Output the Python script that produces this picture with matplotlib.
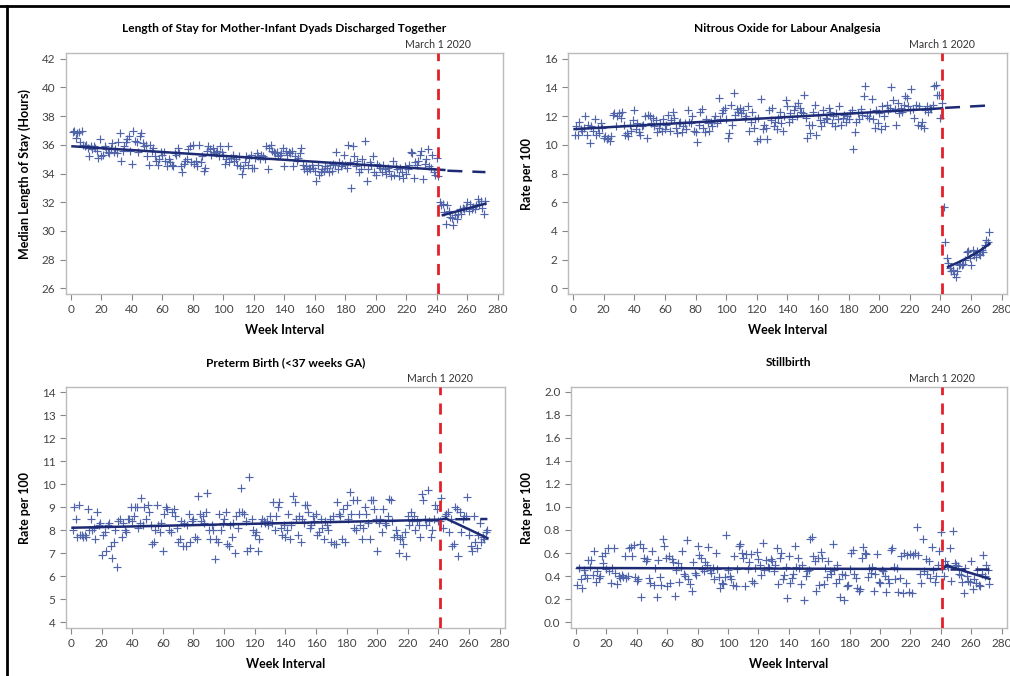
import matplotlib
matplotlib.use("Agg")
import matplotlib.pyplot as plt
import numpy as np
from matplotlib.lines import Line2D

plt.rcParams['font.family'] = ['Lato', 'DejaVu Sans']

weeks = np.arange(1, 273)

# (1) length of stay, weeks 1..272
los = [
    36.9, 37.0, 36.5, 36.8, 36.9, 36.2, 37.0, 36.0, 35.9, 36.0,
    35.8, 35.2, 35.9, 35.7, 35.9, 35.8, 35.6, 35.1, 36.4, 35.2,
    35.3, 35.9, 35.7, 35.5, 35.4, 35.8, 36.1, 35.5, 35.7, 35.4,
    36.2, 36.8, 34.9, 35.6, 35.9, 36.2, 36.4, 36.6, 35.6, 34.7,
    37.0, 36.3, 36.2, 35.5, 36.6, 36.8, 36.1, 35.9, 36.0, 35.2,
    34.6, 36.0, 35.6, 35.8, 35.2, 34.9, 34.6, 35.0, 35.5, 35.3,
    35.5, 34.9, 34.5, 35.0, 34.8, 34.6, 34.5, 35.4, 35.3, 35.8,
    35.4, 34.5, 34.1, 34.7, 34.9, 35.0, 35.7, 35.9, 34.8, 36.0,
    34.7, 34.9, 34.5, 36.0, 34.8, 35.2, 34.2, 34.4, 35.6, 35.9,
    35.7, 35.3, 35.8, 35.5, 35.4, 35.6, 35.2, 35.9, 35.5, 35.3,
    34.7, 35.0, 35.9, 34.8, 35.1, 35.3, 34.9, 35.0, 34.6, 35.2,
    34.5, 34.0, 34.4, 34.8, 35.2, 34.6, 35.1, 35.3, 34.4, 34.4,
    35.1, 35.4, 35.2, 35.0, 35.3, 35.2, 35.0, 35.9, 34.3, 35.8,
    36.0, 35.6, 35.5, 35.4, 35.5, 35.2, 35.3, 35.4, 35.8, 34.5,
    35.6, 35.3, 35.5, 35.4, 35.6, 34.5, 35.2, 34.9, 35.1, 35.4,
    35.8, 34.6, 34.3, 34.5, 34.2, 34.4, 34.3, 34.6, 34.4, 34.2,
    33.5, 34.6, 33.9, 34.1, 34.3, 34.2, 34.5, 34.4, 34.1, 34.6,
    34.2, 34.7, 34.6, 35.5, 34.3, 34.8, 34.5, 34.7, 35.3, 34.6,
    34.4, 36.0, 34.8, 33.0, 35.9, 35.2, 34.5, 34.9, 34.1, 34.3,
    35.0, 34.7, 36.3, 33.5, 34.3, 34.8, 34.6, 35.2, 34.1, 33.9,
    34.7, 34.5, 34.4, 34.1, 34.6, 34.3, 34.0, 34.4, 34.2, 33.8,
    34.9, 33.9, 34.5, 34.3, 33.8, 34.4, 34.1, 33.7, 34.5, 34.0,
    34.3, 34.6, 35.5, 35.4, 33.7, 34.8, 34.6, 34.9, 35.3, 35.6,
    33.6, 34.7, 35.0, 35.7, 34.5, 34.4, 35.3, 34.1, 33.9, 35.1,
    33.8, 32.0, 31.8, 31.9, 31.3, 30.5, 31.8, 31.4, 31.0, 30.9,
    30.4, 31.1, 30.8, 31.2, 31.5, 31.2, 31.6, 31.5, 31.7, 32.0,
    31.4, 31.9, 31.5, 31.7, 31.5, 31.8, 32.2, 31.9, 32.1, 31.6,
    31.2, 32.1,
]

# (2) nitrous oxide rate per 100
n2o = [
    10.7, 11.3, 10.7, 11.6, 11.1, 11.0, 11.2, 12.0, 10.7, 11.4,
    10.1, 11.3, 11.0, 11.8, 10.7, 11.2, 10.8, 11.5, 11.2, 10.5,
    10.6, 10.4, 10.5, 10.3, 10.6, 12.1, 12.2, 11.3, 12.0, 12.2,
    11.9, 12.3, 11.4, 10.7, 10.8, 10.6, 11.4, 11.0, 11.7, 12.4,
    11.1, 11.5, 10.9, 10.7, 11.3, 11.4, 12.0, 10.5, 12.1, 12.0,
    11.5, 11.9, 11.3, 11.7, 10.9, 11.2, 11.5, 11.0, 11.8, 11.1,
    11.4, 12.1, 11.0, 11.7, 12.3, 11.9, 11.2, 10.8, 11.5, 11.6,
    10.9, 11.3, 11.5, 11.1, 12.4, 11.6, 11.5, 12.0, 11.0, 10.9,
    10.2, 11.4, 12.3, 12.5, 11.2, 10.9, 11.8, 11.5, 11.0, 11.6,
    11.3, 11.7, 12.0, 11.5, 13.3, 11.8, 12.2, 12.4, 12.6, 11.8,
    10.5, 10.8, 12.8, 11.4, 13.6, 12.1, 12.5, 12.3, 12.6, 12.2,
    12.4, 11.9, 12.0, 12.7, 11.0, 11.6, 12.3, 11.2, 11.8, 10.3,
    11.9, 10.4, 13.2, 11.1, 11.4, 11.2, 10.4, 12.4, 11.7, 12.6,
    11.3, 11.6, 11.1, 11.9, 12.3, 11.5, 11.0, 12.0, 13.1, 12.7,
    11.6, 12.2, 11.8, 12.4, 12.7, 12.0, 12.9, 12.6, 12.3, 12.2,
    13.5, 11.9, 10.5, 11.4, 10.8, 11.4, 12.3, 12.8, 10.7, 12.1,
    11.7, 11.3, 12.4, 11.6, 11.9, 11.8, 12.6, 12.3, 11.5, 12.0,
    11.3, 12.2, 11.8, 12.7, 11.4, 11.9, 12.1, 11.6, 12.0, 11.8,
    12.2, 12.4, 9.7, 10.9, 11.6, 12.2, 11.8, 12.5, 12.1, 13.4,
    14.1, 12.0, 11.9, 12.3, 13.2, 11.8, 11.2, 12.4, 11.5, 12.2,
    11.1, 12.7, 12.0, 11.3, 12.8, 12.4, 12.6, 14.0, 13.1, 12.5,
    11.4, 12.9, 12.2, 12.6, 12.3, 12.8, 13.4, 13.3, 12.7, 12.4,
    13.9, 12.5, 11.9, 12.8, 11.4, 12.7, 11.3, 11.6, 11.2, 12.4,
    12.7, 12.3, 12.6, 12.5, 12.8, 14.1, 14.2, 13.5, 13.5, 11.9,
    12.9, 5.7, 3.2, 2.1, 1.8, 1.4, 1.2, 1.3, 1.0, 0.8,
    1.2, 1.6, 1.7, 1.6, 1.7, 2.0, 2.5, 2.6, 2.1, 1.6,
    2.7, 2.3, 2.2, 2.6, 2.4, 2.3, 2.7, 2.5, 3.0, 3.4,
    3.2, 3.9,
]

# (3) preterm birth rate per 100
preterm = [
    8.0, 9.0, 8.5, 7.7, 9.1, 7.8, 7.8, 7.7, 7.8, 7.7,
    8.9, 8.0, 8.5, 8.0, 8.1, 7.6, 8.8, 8.2, 8.3, 6.9,
    7.8, 7.9, 7.1, 8.2, 8.3, 7.3, 6.8, 7.5, 8.0, 6.4,
    8.4, 8.5, 7.7, 8.3, 8.0, 7.9, 8.5, 8.5, 9.0, 8.4,
    8.6, 9.0, 9.0, 8.1, 8.3, 9.4, 8.2, 9.0, 8.5, 9.1,
    8.8, 8.2, 7.4, 7.5, 8.0, 9.1, 8.2, 7.9, 8.3, 7.1,
    8.7, 9.0, 8.9, 8.0, 7.9, 8.8, 8.9, 8.6, 8.1, 7.5,
    7.6, 8.4, 7.3, 8.3, 7.3, 8.2, 8.7, 7.5, 8.4, 8.5,
    7.7, 7.6, 9.5, 8.7, 8.4, 8.6, 8.3, 8.8, 9.6, 8.0,
    7.6, 8.2, 8.0, 6.75, 7.6, 7.5, 8.7, 8.0, 8.3, 8.5,
    8.8, 7.4, 7.3, 8.2, 7.7, 8.3, 7.0, 8.6, 8.1, 8.8,
    9.85, 8.8, 8.7, 8.4, 7.1, 10.3, 7.2, 8.5, 8.0, 7.8,
    7.9, 7.1, 7.6, 8.3, 8.5, 8.4, 8.3, 8.4, 8.2, 8.6,
    8.3, 9.2, 8.0, 8.6, 9.0, 9.2, 8.1, 7.8, 8.2, 7.7,
    8.0, 8.7, 7.6, 8.2, 9.5, 9.2, 8.5, 7.8, 8.6, 7.5,
    8.5, 8.3, 9.1, 9.1, 8.8, 8.1, 8.2, 8.6, 8.4, 8.7,
    7.8, 7.9, 8.5, 8.1, 7.6, 8.4, 8.2, 8.0, 8.5, 7.5,
    8.6, 7.4, 7.4, 9.2, 8.7, 8.6, 7.6, 8.9, 7.5, 9.1,
    8.5, 9.65, 8.7, 9.3, 8.1, 8.0, 9.3, 8.7, 8.2, 7.6,
    8.1, 9.0, 8.7, 8.3, 7.6, 9.3, 9.3, 8.9, 8.5, 7.1,
    8.3, 8.5, 7.9, 8.9, 8.3, 8.2, 8.6, 9.35, 9.3, 8.4,
    7.7, 8.0, 7.8, 7.0, 7.6, 7.7, 7.4, 7.9, 6.85, 8.6,
    8.2, 8.8, 8.4, 8.6, 8.0, 8.4, 8.2, 7.7, 9.55, 9.3,
    8.5, 8.2, 9.75, 8.4, 7.7, 8.0, 8.5, 9.1, 8.9, 8.4,
    8.4, 9.4, 8.1, 8.6, 8.7, 8.8, 7.9, 8.5, 7.3, 7.4,
    9.0, 8.9, 6.85, 8.8, 7.9, 8.5, 8.6, 8.6, 9.45, 7.8,
    7.3, 7.1, 8.6, 7.5, 7.2, 7.8, 8.3, 7.5, 7.7, 7.6,
    7.9, 8.0,
]

# (4) stillbirth rate per 100
stillbirth = [
    0.32, 0.47, 0.37, 0.30, 0.45, 0.41, 0.38, 0.54, 0.48, 0.54,
    0.41, 0.62, 0.35, 0.44, 0.38, 0.40, 0.57, 0.51, 0.60, 0.46,
    0.64, 0.44, 0.34, 0.47, 0.64, 0.43, 0.33, 0.40, 0.38, 0.41,
    0.39, 0.57, 0.38, 0.40, 0.64, 0.65, 0.57, 0.67, 0.39, 0.36,
    0.37, 0.68, 0.22, 0.64, 0.56, 0.53, 0.55, 0.38, 0.34, 0.62,
    0.32, 0.47, 0.22, 0.54, 0.39, 0.32, 0.72, 0.66, 0.56, 0.31,
    0.57, 0.34, 0.55, 0.52, 0.23, 0.45, 0.51, 0.35, 0.48, 0.62,
    0.42, 0.40, 0.71, 0.37, 0.33, 0.27, 0.52, 0.43, 0.41, 0.66,
    0.58, 0.56, 0.46, 0.44, 0.52, 0.50, 0.65, 0.45, 0.43, 0.47,
    0.37, 0.60, 0.46, 0.39, 0.30, 0.34, 0.33, 0.39, 0.76, 0.45,
    0.40, 0.37, 0.32, 0.57, 0.31, 0.46, 0.66, 0.68, 0.60, 0.56,
    0.31, 0.59, 0.46, 0.52, 0.59, 0.36, 0.34, 0.47, 0.61, 0.55,
    0.50, 0.41, 0.69, 0.45, 0.54, 0.48, 0.47, 0.55, 0.53, 0.44,
    0.50, 0.64, 0.33, 0.56, 0.60, 0.37, 0.41, 0.48, 0.21, 0.57,
    0.34, 0.38, 0.42, 0.66, 0.48, 0.56, 0.47, 0.33, 0.50, 0.19,
    0.40, 0.44, 0.45, 0.72, 0.74, 0.57, 0.53, 0.27, 0.56, 0.32,
    0.61, 0.56, 0.33, 0.47, 0.39, 0.53, 0.44, 0.42, 0.68, 0.45,
    0.34, 0.50, 0.37, 0.22, 0.42, 0.19, 0.41, 0.31, 0.32, 0.46,
    0.60, 0.63, 0.42, 0.38, 0.30, 0.27, 0.29, 0.56, 0.65, 0.60,
    0.59, 0.39, 0.47, 0.43, 0.48, 0.27, 0.42, 0.59, 0.35, 0.34,
    0.45, 0.44, 0.40, 0.26, 0.37, 0.34, 0.63, 0.64, 0.48, 0.37,
    0.47, 0.26, 0.38, 0.57, 0.25, 0.60, 0.34, 0.58, 0.26, 0.59,
    0.25, 0.58, 0.60, 0.83, 0.58, 0.42, 0.34, 0.72, 0.44, 0.55,
    0.42, 0.53, 0.38, 0.65, 0.45, 0.35, 0.40, 0.50, 0.62, 0.78,
    0.46, 0.40, 0.53, 0.50, 0.48, 0.64, 0.36, 0.79, 0.51, 0.50,
    0.49, 0.42, 0.41, 0.35, 0.25, 0.47, 0.40, 0.36, 0.35, 0.53,
    0.29, 0.37, 0.34, 0.45, 0.32, 0.31, 0.42, 0.58, 0.40, 0.50,
    0.45, 0.33,
]

# fitted segments: pre-period, post-period, counterfactual (dashed)
los_pre_x, los_pre_y = [1, 245], [35.9, 34.25]
los_post_x, los_post_y = [244, 272], [31.1, 31.9]
los_cf_x, los_cf_y = [247, 272], [34.2, 34.1]

n2o_pre_x, n2o_pre_y = [1, 241], [11.1, 12.55]
n2o_post_x, n2o_post_y = [245, 251, 258, 265, 272], [1.5, 1.78, 2.15, 2.57, 3.1]
n2o_cf_x, n2o_cf_y = [243, 272], [12.58, 12.75]

pre_pre_x, pre_pre_y = [1, 241, 245], [8.1, 8.45, 8.5]
pre_post_x, pre_post_y = [245, 272], [8.5, 7.65]
pre_cf_x, pre_cf_y = [251, 272], [8.47, 8.48]

sb_pre_x, sb_pre_y = [1, 241, 244], [0.47, 0.46, 0.49]
sb_post_x, sb_post_y = [244, 272], [0.49, 0.375]
sb_cf_x, sb_cf_y = [246, 272], [0.46, 0.46]

interruption = 241

fig = plt.figure(figsize=(10.1, 6.76), dpi=100)

pt_col = '#5064aa'
line_col = '#1d2a74'
red = '#e3202a'
tick_col = '#444444'

panels = [
    dict(rect=[0.0653, 0.565, 0.4327, 0.3565], y=los,
         title='Length of Stay for Mother-Infant Dyads Discharged Together',
         ylabel='Median Length of Stay (Hours)', ylim=(25.6, 42.4), yticks=np.arange(26, 43, 2),
         fmt='%d', pre=(los_pre_x, los_pre_y), post=(los_post_x, los_post_y), cf=(los_cf_x, los_cf_y)),
    dict(rect=[0.5624, 0.565, 0.4347, 0.3565], y=n2o,
         title='Nitrous Oxide for Labour Analgesia',
         ylabel='Rate per 100', ylim=(-0.4, 16.4), yticks=np.arange(0, 17, 2),
         fmt='%d', pre=(n2o_pre_x, n2o_pre_y), post=(n2o_post_x, n2o_post_y), cf=(n2o_cf_x, n2o_cf_y)),
    dict(rect=[0.0653, 0.071, 0.4347, 0.3565], y=preterm,
         title='Preterm Birth (<37 weeks GA)',
         ylabel='Rate per 100', ylim=(3.74, 14.22), yticks=np.arange(4, 15, 1),
         fmt='%d', pre=(pre_pre_x, pre_pre_y), post=(pre_post_x, pre_post_y), cf=(pre_cf_x, pre_cf_y)),
    dict(rect=[0.5653, 0.071, 0.4317, 0.3565], y=stillbirth,
         title='Stillbirth',
         ylabel='Rate per 100', ylim=(-0.052, 2.043), yticks=np.arange(0, 2.01, 0.2),
         fmt='%.1f', pre=(sb_pre_x, sb_pre_y), post=(sb_post_x, sb_post_y), cf=(sb_cf_x, sb_cf_y)),
]

for p in panels:
    ax = fig.add_axes(p['rect'])
    ax.scatter(weeks, p['y'], marker='+', s=28, color=pt_col, linewidths=0.85, zorder=2)
    ax.plot(*p['pre'], color=line_col, lw=1.8, zorder=3)
    ax.plot(*p['post'], color=line_col, lw=1.8, zorder=3)
    ax.plot(*p['cf'], color=line_col, lw=1.8, dashes=(6, 4), zorder=3)
    ax.axvline(interruption, color=red, lw=2, dashes=(4, 3), zorder=4)
    ax.set_xlim(-3.3, 283.5)
    ax.set_ylim(*p['ylim'])
    ax.set_xticks(np.arange(0, 281, 20))
    ax.set_yticks(p['yticks'])
    ax.yaxis.set_major_formatter(matplotlib.ticker.FormatStrFormatter(p['fmt']))
    ax.tick_params(colors='#888888', labelcolor=tick_col, labelsize=8.5, length=4, width=0.8)
    for s in ax.spines.values():
        s.set_color('#bbbbbb')
        s.set_linewidth(1)
    ax.set_title(p['title'], fontsize=8.6, fontweight='bold', pad=15)
    ax.set_xlabel('Week Interval', fontsize=9, fontweight='bold', labelpad=6)
    ax.set_ylabel(p['ylabel'], fontsize=9, fontweight='bold', labelpad=8)
    ax.text(interruption, 1.012, 'March 1 2020', transform=ax.get_xaxis_transform(),
            ha='center', va='bottom', fontsize=7.6, color='#333333')

# frame lines at the top and left of the image
fig.add_artist(Line2D([0, 1], [1 - 6 / 676, 1 - 6 / 676], color='black', lw=2, transform=fig.transFigure))
fig.add_artist(Line2D([7 / 1010, 7 / 1010], [0, 1 - 6 / 676], color='black', lw=2, transform=fig.transFigure))

fig.savefig('out.png', dpi=100)
